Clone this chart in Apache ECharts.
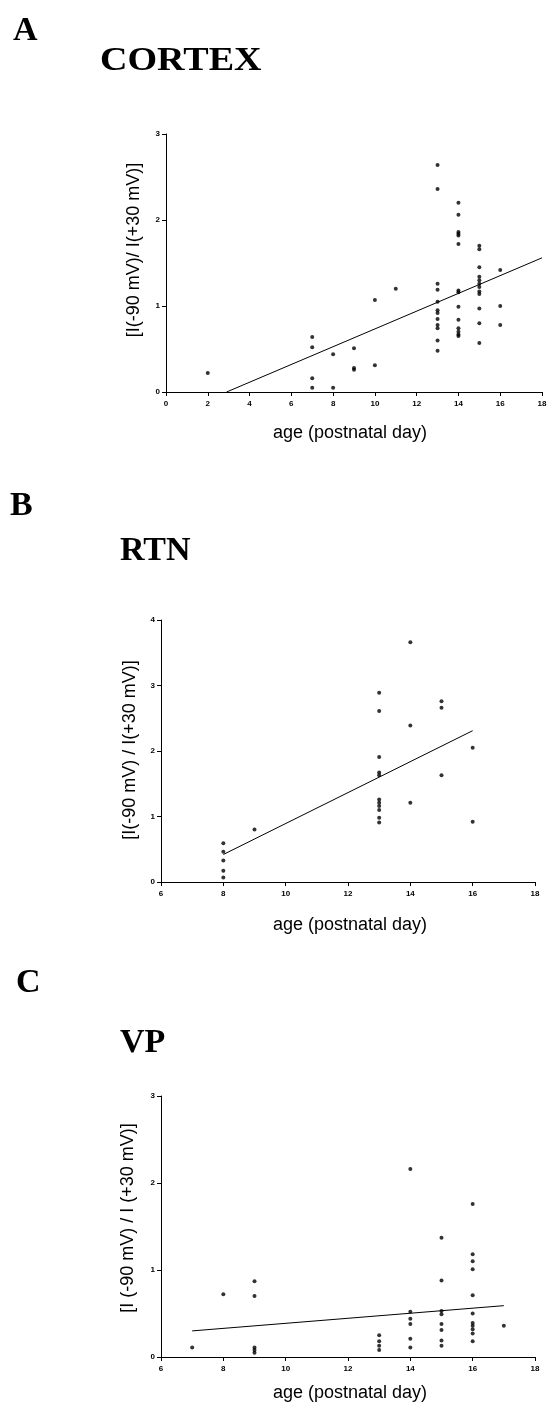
<!DOCTYPE html>
<html>
<head>
<meta charset="utf-8">
<script src="https://cdn.jsdelivr.net/npm/echarts@6/dist/echarts.min.js"></script>
<style>
html,body{margin:0;padding:0;background:#fff;}
#chart{width:549px;height:1408px;}
</style>
</head>
<body>
<div id="chart"></div>
<script>
// ---- Data ----
// Panel A: CORTEX
const cortexAges = [2, 7, 8, 9, 10, 11, 13, 14, 15, 16];
const cortexValues = [
  [0.22],
  [0.64, 0.52, 0.16, 0.05],
  [0.44, 0.05],
  [0.51, 0.28, 0.26],
  [1.07, 0.31],
  [1.20],
  [2.64, 2.36, 1.26, 1.19, 1.05, 0.95, 0.92, 0.85, 0.78, 0.74, 0.60, 0.48],
  [2.20, 2.06, 1.86, 1.84, 1.82, 1.72, 1.18, 1.16, 0.99, 0.84, 0.74, 0.70, 0.67, 0.65],
  [1.70, 1.66, 1.45, 1.34, 1.30, 1.26, 1.22, 1.17, 1.14, 0.97, 0.80, 0.57],
  [1.42, 1.00, 0.78]
];
const cortexFit = [[2.9, 0], [18, 1.56]];

// Panel B: RTN
const rtnAges = [8, 9, 13, 14, 15, 16];
const rtnValues = [
  [0.59, 0.46, 0.33, 0.17, 0.07],
  [0.80],
  [2.89, 2.61, 1.91, 1.67, 1.63, 1.26, 1.21, 1.16, 1.10, 0.98, 0.91],
  [3.66, 2.39, 1.21],
  [2.76, 2.66, 1.63],
  [2.05, 0.92]
];
const rtnFit = [[8, 0.42], [16, 2.31]];

// Panel C: VP
const vpAges = [7, 8, 9, 13, 14, 15, 16, 17];
const vpValues = [
  [0.11],
  [0.72],
  [0.87, 0.70, 0.11, 0.08, 0.05],
  [0.25, 0.18, 0.13, 0.08],
  [2.16, 0.52, 0.44, 0.38, 0.21, 0.11],
  [1.37, 0.88, 0.53, 0.49, 0.38, 0.31, 0.19, 0.13],
  [1.76, 1.18, 1.10, 1.01, 0.71, 0.50, 0.39, 0.36, 0.32, 0.27, 0.18],
  [0.36]
];
const vpFit = [[7, 0.30], [17, 0.59]];

// Axis ranges / ticks
const xRangeA = [0, 18];
const xRangeBC = [6, 18];
const yMaxA = 3, yMaxB = 4, yMaxC = 3;

// Texts
const panelLetters = ['A', 'B', 'C'];
const panelTitles = ['CORTEX', 'RTN', 'VP'];
const xTitle = 'age (postnatal day)';
const yTitles = ['[I(-90 mV)/ I(+30 mV)]', '[I(-90 mV) / I(+30 mV)]', '[I (-90 mV) / I (+30 mV)]'];

// ---- Build ----
function toPoints(ages, values) {
  const pts = [];
  ages.forEach((a, i) => values[i].forEach(v => pts.push([a, v])));
  return pts;
}

const SANS = '"Liberation Sans", Arial, sans-serif';
const SERIF = '"Liberation Serif", "Times New Roman", serif';

function xAxisDef(gi, range) {
  return {
    type: 'value', gridIndex: gi, min: range[0], max: range[1], interval: 2,
    splitLine: {show: false},
    axisLine: {show: true, onZero: false, lineStyle: {color: '#000', width: 1}},
    axisTick: {show: true, length: 4, lineStyle: {color: '#000'}},
    axisLabel: {color: '#000', fontSize: 8, fontWeight: 'bold', fontFamily: SANS, margin: 8}
  };
}
function yAxisDef(gi, max) {
  return {
    type: 'value', gridIndex: gi, min: 0, max: max, interval: 1,
    splitLine: {show: false},
    axisLine: {show: true, onZero: false, lineStyle: {color: '#000', width: 1}},
    axisTick: {show: true, length: 4, lineStyle: {color: '#000'}},
    axisLabel: {color: '#000', fontSize: 8, fontWeight: 'bold', fontFamily: SANS, margin: 6}
  };
}
function scatter(gi, pts) {
  return {
    type: 'scatter', xAxisIndex: gi, yAxisIndex: gi, data: pts,
    symbol: 'circle', symbolSize: 4, itemStyle: {color: '#000'}, silent: true
  };
}
function fitLine(gi, pts) {
  return {
    type: 'line', xAxisIndex: gi, yAxisIndex: gi, data: pts,
    symbol: 'none', lineStyle: {color: '#000', width: 1}, silent: true
  };
}

function txt(text, x, y, font, align, rot, sx) {
  return {
    type: 'text', x: x, y: y, rotation: rot || 0, scaleX: sx || 1, silent: true,
    style: {text: text, font: font, fill: '#000', textAlign: align || 'left', textVerticalAlign: 'middle'}
  };
}

const letterFont = 'bold 34px ' + SERIF;
const titleFont = 'bold 34px ' + SERIF;
const axFont = '18px ' + SANS;

const graphics = [
  txt(panelLetters[0], 13, 31, letterFont),
  txt(panelTitles[0], 100, 61, titleFont, 'left', 0, 1.12),
  txt(panelLetters[1], 10, 506, letterFont),
  txt(panelTitles[1], 120, 551, titleFont),
  txt(panelLetters[2], 16, 983, letterFont),
  txt(panelTitles[2], 120, 1043, titleFont),
  txt(xTitle, 350, 433, axFont, 'center'),
  txt(xTitle, 350, 925, axFont, 'center'),
  txt(xTitle, 350, 1393, axFont, 'center'),
  txt(yTitles[0], 134, 250, axFont, 'center', Math.PI / 2),
  txt(yTitles[1], 130, 750, axFont, 'center', Math.PI / 2),
  txt(yTitles[2], 128, 1218, axFont, 'center', Math.PI / 2)
];

const option = {
  backgroundColor: '#fff',
  animation: false,
  grid: [
    {left: 166, top: 134, width: 376, height: 258, containLabel: false, outerBoundsMode: 'none'},
    {left: 161, top: 620, width: 374, height: 262, containLabel: false, outerBoundsMode: 'none'},
    {left: 161, top: 1096, width: 374, height: 261, containLabel: false, outerBoundsMode: 'none'}
  ],
  xAxis: [xAxisDef(0, xRangeA), xAxisDef(1, xRangeBC), xAxisDef(2, xRangeBC)],
  yAxis: [yAxisDef(0, yMaxA), yAxisDef(1, yMaxB), yAxisDef(2, yMaxC)],
  series: [
    scatter(0, toPoints(cortexAges, cortexValues)),
    fitLine(0, cortexFit),
    scatter(1, toPoints(rtnAges, rtnValues)),
    fitLine(1, rtnFit),
    scatter(2, toPoints(vpAges, vpValues)),
    fitLine(2, vpFit)
  ],
  graphic: graphics
};

const chart = echarts.init(document.getElementById('chart'), null, {renderer: 'canvas'});
chart.setOption(option);
</script>
</body>
</html>
